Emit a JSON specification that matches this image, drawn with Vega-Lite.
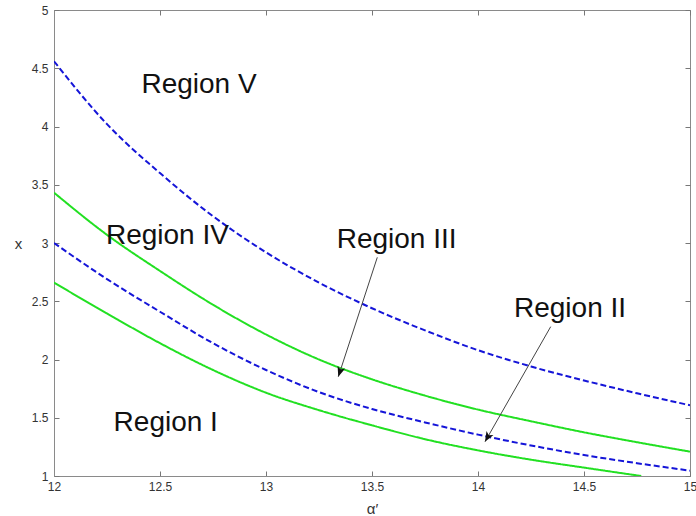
{
  "$schema": "https://vega.github.io/schema/vega-lite/v6.json",
  "width": 636,
  "height": 466,
  "autosize": {"type": "none"},
  "padding": {"left": 54, "top": 10, "right": 6, "bottom": 40},
  "background": "white",
  "config": {
    "view": {"stroke": "#8a8a8a", "strokeWidth": 1},
    "axis": {"grid": false, "labelFont": "Liberation Sans", "titleFont": "Liberation Sans"},
    "font": "Liberation Sans"
  },
  "datasets": {
    "curves": [
      {"series": "B1", "a": 12.0, "x": 4.56},
      {"series": "B1", "a": 12.25, "x": 4.02},
      {"series": "B1", "a": 12.5, "x": 3.6},
      {"series": "B1", "a": 12.75, "x": 3.23},
      {"series": "B1", "a": 13.0, "x": 2.92},
      {"series": "B1", "a": 13.25, "x": 2.66},
      {"series": "B1", "a": 13.5, "x": 2.44},
      {"series": "B1", "a": 13.75, "x": 2.25},
      {"series": "B1", "a": 14.0, "x": 2.08},
      {"series": "B1", "a": 14.25, "x": 1.94},
      {"series": "B1", "a": 14.5, "x": 1.82},
      {"series": "B1", "a": 14.75, "x": 1.71},
      {"series": "B1", "a": 15.0, "x": 1.607},
      {"series": "G1", "a": 12.0, "x": 3.432},
      {"series": "G1", "a": 12.25, "x": 3.07},
      {"series": "G1", "a": 12.5, "x": 2.76},
      {"series": "G1", "a": 12.75, "x": 2.47},
      {"series": "G1", "a": 13.0, "x": 2.215},
      {"series": "G1", "a": 13.25, "x": 2.0},
      {"series": "G1", "a": 13.5, "x": 1.83},
      {"series": "G1", "a": 13.75, "x": 1.69},
      {"series": "G1", "a": 14.0, "x": 1.57},
      {"series": "G1", "a": 14.25, "x": 1.47},
      {"series": "G1", "a": 14.5, "x": 1.375},
      {"series": "G1", "a": 14.75, "x": 1.29},
      {"series": "G1", "a": 15.0, "x": 1.209},
      {"series": "B2", "a": 12.0, "x": 3.0},
      {"series": "B2", "a": 12.25, "x": 2.69},
      {"series": "B2", "a": 12.5, "x": 2.41},
      {"series": "B2", "a": 12.75, "x": 2.14},
      {"series": "B2", "a": 13.0, "x": 1.91},
      {"series": "B2", "a": 13.25, "x": 1.72},
      {"series": "B2", "a": 13.5, "x": 1.575},
      {"series": "B2", "a": 13.75, "x": 1.46},
      {"series": "B2", "a": 14.0, "x": 1.355},
      {"series": "B2", "a": 14.25, "x": 1.262},
      {"series": "B2", "a": 14.5, "x": 1.18},
      {"series": "B2", "a": 14.75, "x": 1.11},
      {"series": "B2", "a": 15.0, "x": 1.046},
      {"series": "G2", "a": 12.0, "x": 2.66},
      {"series": "G2", "a": 12.25, "x": 2.395},
      {"series": "G2", "a": 12.5, "x": 2.14},
      {"series": "G2", "a": 12.75, "x": 1.91},
      {"series": "G2", "a": 13.0, "x": 1.715},
      {"series": "G2", "a": 13.25, "x": 1.565},
      {"series": "G2", "a": 13.5, "x": 1.435},
      {"series": "G2", "a": 13.75, "x": 1.316},
      {"series": "G2", "a": 14.0, "x": 1.22},
      {"series": "G2", "a": 14.25, "x": 1.14},
      {"series": "G2", "a": 14.5, "x": 1.072},
      {"series": "G2", "a": 14.77, "x": 1.0}
    ],
    "labels": [
      {"label": "Region V", "a": 12.684, "x": 4.285},
      {"label": "Region IV", "a": 12.535, "x": 2.991},
      {"label": "Region III", "a": 13.616, "x": 2.954},
      {"label": "Region II", "a": 14.434, "x": 2.362},
      {"label": "Region I", "a": 12.527, "x": 1.389}
    ],
    "arrows": [
      {"label": "Region III", "a": 13.525, "x": 2.877, "a2": 13.341, "x2": 1.852},
      {"label": "Region II", "a": 14.343, "x": 2.282, "a2": 14.033, "x2": 1.294}
    ]
  },
  "resolve": {"axis": {"x": "independent", "y": "independent"}},
  "layer": [
    {
      "data": {"name": "curves"},
      "mark": {"type": "line", "interpolate": "monotone", "strokeWidth": 2, "clip": true},
      "encoding": {
        "x": {
          "field": "a", "type": "quantitative",
          "scale": {"domain": [12, 15], "nice": false, "zero": false},
          "axis": {
            "orient": "bottom",
            "values": [12, 12.5, 13, 13.5, 14, 14.5, 15],
            "format": "~g",
            "domainColor": "#8a8a8a", "tickColor": "#777777", "tickSize": -5, "tickWidth": 1,
            "labelColor": "#333333", "labelFontSize": 12, "labelPadding": 10,
            "labelFlush": false, "labelOverlap": false, "labelBound": false,
            "title": "α′", "titleFontSize": 15, "titleFontWeight": "normal", "titleColor": "#333333",
            "titleX": 318, "titleY": 32, "titleBaseline": "middle", "titleAlign": "center"
          }
        },
        "y": {
          "field": "x", "type": "quantitative",
          "scale": {"domain": [1, 5], "nice": false, "zero": false},
          "axis": {
            "orient": "left",
            "values": [1, 1.5, 2, 2.5, 3, 3.5, 4, 4.5, 5],
            "format": "~g",
            "domainColor": "#8a8a8a", "tickColor": "#777777", "tickSize": -5, "tickWidth": 1,
            "labelColor": "#333333", "labelFontSize": 12, "labelPadding": 11,
            "labelFlush": false, "labelOverlap": false, "labelBound": false,
            "title": "x", "titleFontSize": 15, "titleFontWeight": "normal", "titleColor": "#333333",
            "titleAngle": 0, "titleX": -36, "titleY": 233, "titleBaseline": "middle", "titleAlign": "center"
          }
        },
        "detail": {"field": "series"},
        "color": {
          "field": "series", "type": "nominal", "legend": null,
          "scale": {"domain": ["B1", "G1", "B2", "G2"], "range": ["#1515d8", "#22e022", "#1515d8", "#22e022"]}
        },
        "strokeDash": {
          "field": "series", "type": "nominal", "legend": null,
          "scale": {"domain": ["B1", "G1", "B2", "G2"], "range": [[6, 3], [1, 0], [6, 3], [1, 0]]}
        }
      }
    },
    {
      "data": {"name": "labels"},
      "mark": {"type": "text", "fontSize": 28, "font": "Liberation Sans", "color": "#111111", "baseline": "alphabetic", "align": "center"},
      "encoding": {
        "x": {
          "field": "a", "type": "quantitative",
          "axis": {"orient": "top", "values": [12, 12.5, 13, 13.5, 14, 14.5, 15], "domain": false, "labels": false, "title": null, "tickColor": "#777777", "tickWidth": 1, "tickSize": -5}
        },
        "y": {
          "field": "x", "type": "quantitative",
          "axis": {"orient": "right", "values": [1, 1.5, 2, 2.5, 3, 3.5, 4, 4.5, 5], "domain": false, "labels": false, "title": null, "tickColor": "#777777", "tickWidth": 1, "tickSize": -5}
        },
        "text": {"field": "label"}
      }
    },
    {
      "data": {"name": "arrows"},
      "mark": {"type": "rule", "color": "#444444", "strokeWidth": 1},
      "encoding": {
        "x": {"field": "a", "type": "quantitative", "axis": null},
        "y": {"field": "x", "type": "quantitative", "axis": null},
        "x2": {"field": "a2"},
        "y2": {"field": "x2"}
      }
    },
    {
      "data": {"name": "arrows"},
      "transform": [{"filter": "datum.label === 'Region III'"}],
      "mark": {"type": "point", "shape": "M0,0L-0.4,1L0,0.75L0.4,1Z", "filled": true, "color": "#111111", "opacity": 1, "size": 400, "angle": 198},
      "encoding": {
        "x": {"field": "a2", "type": "quantitative", "axis": null},
        "y": {"field": "x2", "type": "quantitative", "axis": null}
      }
    },
    {
      "data": {"name": "arrows"},
      "transform": [{"filter": "datum.label === 'Region II'"}],
      "mark": {"type": "point", "shape": "M0,0L-0.4,1L0,0.75L0.4,1Z", "filled": true, "color": "#111111", "opacity": 1, "size": 400, "angle": 210},
      "encoding": {
        "x": {"field": "a2", "type": "quantitative", "axis": null},
        "y": {"field": "x2", "type": "quantitative", "axis": null}
      }
    }
  ]
}
